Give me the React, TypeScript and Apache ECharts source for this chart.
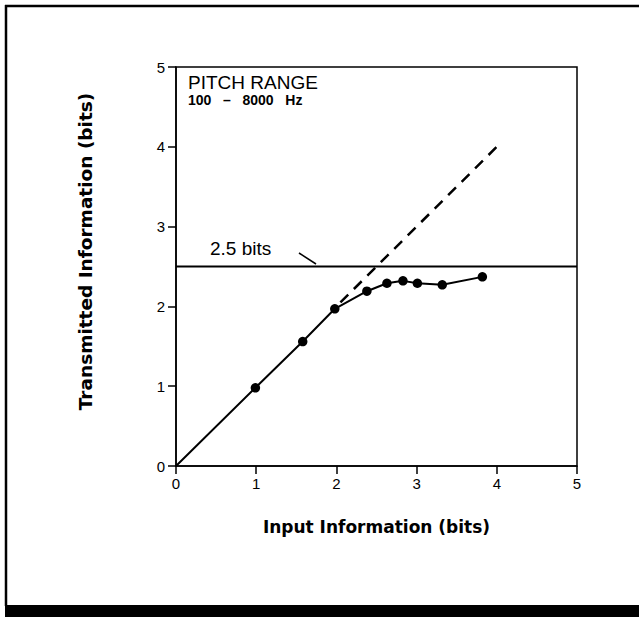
import React, { useEffect, useRef } from "react";
import * as echarts from "echarts";

// Input information (bits) vs transmitted information (bits)
const inputBits = [0, 0.99, 1.58, 1.98, 2.38, 2.63, 2.83, 3.01, 3.32, 3.82];
const transmittedBits = [0, 0.98, 1.56, 1.97, 2.19, 2.29, 2.32, 2.29, 2.27, 2.37];
// perfect-transmission reference (dashed)
const idealX = [2.05, 4.0];
const idealY = [2.05, 4.0];
// channel capacity limit
const limitX = [0, 5];
const limitY = [2.5, 2.5];
const axisTicks = [0, 1, 2, 3, 4, 5];

const FONT = "'Liberation Sans', Arial, sans-serif";
const HEAVY = "'DejaVu Sans', sans-serif";

export default function App() {
  const ref = useRef<HTMLDivElement>(null);

  useEffect(() => {
    if (!ref.current) return;
    const chart = echarts.init(ref.current, undefined, { renderer: "svg" });
    const pts = inputBits.map((x, i) => [x, transmittedBits[i]]);
    const ideal = idealX.map((x, i) => [x, idealY[i]]);
    const limit = limitX.map((x, i) => [x, limitY[i]]);

    chart.setOption({
      animation: false,
      backgroundColor: "#fff",
      grid: {
        left: 176,
        top: 67,
        width: 401,
        height: 399,
        show: true,
        borderColor: "#000",
        borderWidth: 1.5,
      },
      xAxis: {
        type: "value",
        min: axisTicks[0],
        max: axisTicks[axisTicks.length - 1],
        interval: 1,
        axisLine: { show: true, lineStyle: { color: "#000", width: 1.5 } },
        axisTick: { show: true, length: 8, inside: false, lineStyle: { color: "#000", width: 1.5 } },
        splitLine: { show: false },
        axisLabel: { color: "#000", fontSize: 15, fontFamily: FONT, margin: 10 },
        name: "Input Information (bits)",
        nameLocation: "middle",
        nameGap: 52,
        nameTextStyle: { color: "#000", fontSize: 17, fontWeight: "bold", fontFamily: HEAVY },
      },
      yAxis: {
        type: "value",
        min: axisTicks[0],
        max: axisTicks[axisTicks.length - 1],
        interval: 1,
        axisLine: { show: true, lineStyle: { color: "#000", width: 1.5 } },
        axisTick: { show: true, length: 8, inside: false, lineStyle: { color: "#000", width: 1.5 } },
        splitLine: { show: false },
        axisLabel: { color: "#000", fontSize: 15, fontFamily: FONT, margin: 11 },
        name: "Transmitted Information (bits)",
        nameLocation: "middle",
        nameGap: 81,
        nameTextStyle: {
          color: "#000",
          fontSize: 18.5,
          fontWeight: "bold",
          fontFamily: HEAVY,
          padding: [0, 0, 0, 30],
        },
      },
      series: [
        {
          type: "line",
          data: limit,
          symbol: "none",
          lineStyle: { color: "#000", width: 2 },
          silent: true,
        },
        {
          type: "line",
          data: ideal,
          symbol: "none",
          lineStyle: { color: "#000", width: 2.5, type: [11, 8] },
          silent: true,
        },
        {
          type: "line",
          data: pts,
          symbol: "circle",
          symbolSize: (v: number[]) => (v[0] === 0 ? 0 : 9.5),
          itemStyle: { color: "#000" },
          lineStyle: { color: "#000", width: 2 },
        },
      ],
      graphic: [
        // outer frame
        { type: "line", shape: { x1: 5, y1: 6, x2: 639, y2: 6 }, style: { stroke: "#000", lineWidth: 2.5 } },
        { type: "line", shape: { x1: 6, y1: 5, x2: 6, y2: 606 }, style: { stroke: "#000", lineWidth: 2.5 } },
        { type: "rect", shape: { x: 5, y: 605, width: 634, height: 12 }, style: { fill: "#000" } },
        // panel title
        {
          type: "text",
          left: 188,
          top: 73,
          style: { text: "PITCH RANGE", fontSize: 19, fontFamily: FONT, fill: "#000" },
        },
        {
          type: "text",
          left: 188,
          top: 93,
          style: {
            text: "100\u00a0\u00a0\u00a0\u2013\u00a0\u00a0\u00a08000\u00a0\u00a0\u00a0Hz",
            fontSize: 14,
            fontWeight: "bold",
            fontFamily: FONT,
            fill: "#000",
          },
        },
        // limit annotation
        {
          type: "text",
          left: 210,
          top: 239,
          style: { text: "2.5 bits", fontSize: 19, fontFamily: FONT, fill: "#000" },
        },
        { type: "line", shape: { x1: 299, y1: 253, x2: 316, y2: 264 }, style: { stroke: "#000", lineWidth: 1.5 } },
      ],
    });
    return () => chart.dispose();
  }, []);

  return (
    <div
      ref={ref}
      style={{ position: "fixed", left: 0, top: 0, width: 639, height: 617, background: "#fff" }}
    />
  );
}
